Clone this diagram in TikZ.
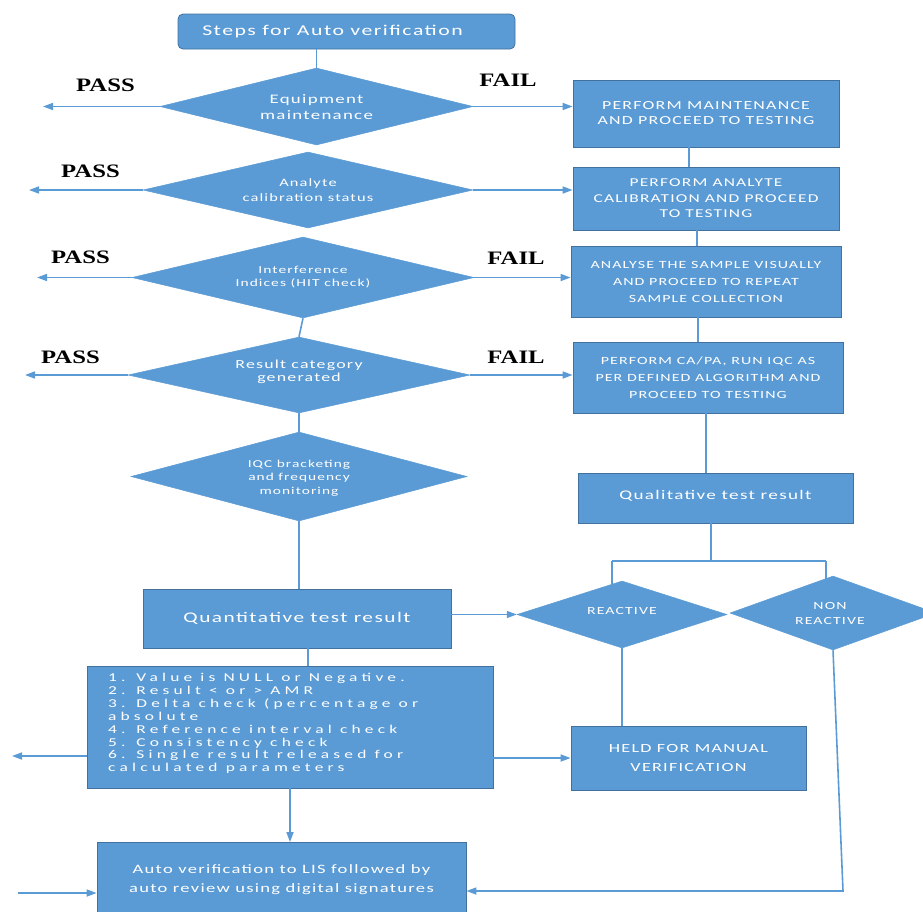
\documentclass[tikz,border=0pt]{standalone}
\usepackage{fontspec}
\setmainfont{Carlito}
\newfontfamily\wfont[FakeStretch=1.45,LetterSpace=10]{Carlito}
\newfontfamily\cfont[FakeStretch=1.45,LetterSpace=35]{Carlito}
\newfontfamily\lfont[FakeStretch=1.3]{Liberation Serif}
\usetikzlibrary{shapes.geometric,arrows.meta}
\definecolor{fillblue}{HTML}{5B9BD5}
\definecolor{edgeblue}{HTML}{41719C}
\definecolor{lineblue}{HTML}{5B9BD5}
\begin{document}
\begin{tikzpicture}[x=1pt,y=-1pt,
  box/.style={rectangle, fill=fillblue, draw=edgeblue, line width=0.8pt, inner sep=0pt, text=white, align=center},
  dia/.style={diamond, fill=fillblue, draw=fillblue, line width=0.5pt, inner sep=0pt},
  dtext/.style={text=white, align=center, inner sep=0pt},
  conn/.style={draw=lineblue, line width=1.6pt},
  arr/.style={conn, -{Triangle[length=10pt,width=7pt]}},
  lbl/.style={font={\lfont\bfseries\fontsize{19}{22}\selectfont}, inner sep=0pt}]
\useasboundingbox (0,0) rectangle (923,911);
\clip (0,0) rectangle (923,911);

% title
\node[box, rounded corners=5pt, minimum width=337pt, minimum height=35pt, font={\wfont\fontsize{15}{17}\selectfont}] (title) at (346.5,31.5) {\hspace{-28pt}Steps for Auto verification};

% diamonds
\node[dia, minimum width=313pt, minimum height=77pt] (d1) at (316.5,106.5) {};
\node[dtext, font={\wfont\fontsize{13}{16}\selectfont}] (t1) at (316.5,107) {Equipment\\maintenance};
\node[dia, minimum width=330pt, minimum height=76pt] (d2) at (308,190) {};
\node[dtext, font={\wfont\fontsize{11.3}{14.5}\selectfont}] (t2) at (308,190) {Analyte\\calibration status};
\node[dia, minimum width=342pt, minimum height=81pt] (d3) at (303,277.5) {};
\node[dtext, font={\wfont\fontsize{10.7}{13}\selectfont}] (t3) at (303,277.5) {Interference\\Indices (HIT check)};
\node[dia, minimum width=342pt, minimum height=76pt] (d4) at (299,375) {};
\node[dtext, font={\wfont\fontsize{12.3}{12.5}\selectfont}] (t4) at (299,372) {Result category\\generated};
\node[dia, minimum width=336pt, minimum height=89pt] (d5) at (299,476.5) {};
\node[dtext, font={\wfont\fontsize{10.6}{13.5}\selectfont}] (t5) at (299,478) {IQC bracketing\\and frequency\\monitoring};

% PASS / FAIL labels
\node[lbl] (p1) at (105.5,85) {PASS};
\node[lbl] (p2) at (90.5,171) {PASS};
\node[lbl] (p3) at (80.5,257) {PASS};
\node[lbl] (p4) at (70.5,357) {PASS};
\node[lbl] (f1) at (508,80) {FAIL};
\node[lbl] (f3) at (516,258) {FAIL};
\node[lbl] (f4) at (516,357) {FAIL};

% right column boxes
\node[box, minimum width=266pt, minimum height=67pt, font={\wfont\fontsize{12.3}{15}\selectfont}] (b1) at (706,113.5) {PERFORM MAINTENANCE\\AND PROCEED TO TESTING};
\node[box, minimum width=266pt, minimum height=63pt, font={\wfont\fontsize{12}{15.5}\selectfont}] (b2) at (706,198.5) {PERFORM ANALYTE\\CALIBRATION AND PROCEED\\TO TESTING};
\node[box, minimum width=270pt, minimum height=71pt, font={\wfont\fontsize{11}{17}\selectfont}] (b3) at (706,281.5) {ANALYSE THE SAMPLE VISUALLY\\AND PROCEED TO REPEAT\\SAMPLE COLLECTION};
\node[box, minimum width=270pt, minimum height=71pt, font={\wfont\fontsize{11}{17}\selectfont}] (b4) at (708,377.5) {PERFORM CA/PA, RUN IQC AS\\PER DEFINED ALGORITHM AND\\PROCEED TO TESTING};

\node[box, minimum width=275pt, minimum height=50pt, font={\wfont\fontsize{13.2}{16}\selectfont}] (qual) at (715.5,498) {\raisebox{7pt}{Qualitative test result}};
\node[box, minimum width=308pt, minimum height=59pt, font={\wfont\fontsize{14.7}{17}\selectfont}] (quant) at (297,618.5) {Quantitative test result};

\node[dia, minimum width=210pt, minimum height=67pt] (r) at (622,614.5) {};
\node[dtext, font={\wfont\fontsize{10.9}{15}\selectfont}] (rt) at (622,611) {REACTIVE};
\node[dia, minimum width=206pt, minimum height=74pt] (nr) at (833,613) {};
\node[dtext, font={\wfont\fontsize{10.9}{15}\selectfont}] (nrt) at (830,613.5) {NON\\REACTIVE};

% criteria box
\node[box, minimum width=406pt, minimum height=122pt] (crit) at (290,727) {};
\node[anchor=north west, align=left, text=white, inner sep=0pt, font={\cfont\fontsize{12}{12.9}\selectfont}] (ct) at (108,673) {1. Value is NULL or Negative.\\2. Result < or > AMR\\3. Delta check (percentage or\\absolute\\4. Reference interval check\\5. Consistency check\\6. Single result released for\\calculated parameters};

\node[box, minimum width=235pt, minimum height=64pt, font={\wfont\fontsize{12.5}{19}\selectfont}] (held) at (688.5,758) {HELD FOR MANUAL\\VERIFICATION};
\node[box, minimum width=369pt, minimum height=75pt, font={\wfont\fontsize{12.8}{19}\selectfont}] (auto) at (281.5,880) {Auto verification to LIS followed by\\auto review using digital signatures};

% coordinates
\coordinate (e1) at (43,106.5);
\coordinate (e2) at (29,190);
\coordinate (e3) at (37,277.5);
\coordinate (e4) at (25,375);
\coordinate (jc) at (711,561);
\coordinate (jl) at (612,561);
\coordinate (jr) at (826,561);
\coordinate (rl) at (612,585);
\coordinate (nrl) at (826,579);
\coordinate (cl) at (12,756);
\coordinate (nrc) at (843,891);
\coordinate (ai) at (18,893);

% connectors
\draw[conn] (title.south -| d1.north) -- (d1.north);
\draw[conn] (d3.south) -- (d4.north);
\draw[conn] (d4.south) -- (d5.north);
\draw[conn] (d5.south) -- (d5.south |- quant.north);

\draw[arr] (d1.west) -- (e1);
\draw[arr] (d2.west) -- (e2);
\draw[arr] (d3.west) -- (e3);
\draw[arr] (d4.west) -- (e4);

\draw[arr] (d1.east) -- (d1.east -| b1.west);
\draw[arr] (d2.east) -- (d2.east -| b2.west);
\draw[arr] (d3.east) -- (d3.east -| b3.west);
\draw[arr] (d4.east) -- (d4.east -| b4.west);

\draw[conn] ([xshift=-17pt]b1.south) -- ([xshift=-17pt]b1.south |- b2.north);
\draw[conn] ([xshift=-9pt]b2.south) -- ([xshift=-9pt]b2.south |- b3.north);
\draw[conn] ([xshift=-8pt]b3.south) -- ([xshift=-8pt]b3.south |- b4.north);
\draw[conn] ([xshift=-2pt]b4.south) -- ([xshift=-2pt]b4.south |- qual.north);

\draw[conn] (qual.south -| jc) -- (jc);
\draw[conn] (jl) -- (jr);
\draw[conn] (jl) -- (rl);
\draw[conn] (jr) -- (nrl);

\draw[arr] (quant.east |- r.west) -- (r.west);
\draw[conn] ([xshift=11pt]quant.south) -- ([xshift=11pt]quant.south |- crit.north);
\draw[arr] (crit.south) -- (crit.south |- auto.north);
\draw[arr] (crit.west |- cl) -- (cl);
\draw[arr] (crit.east |- held.west) -- (held.west);
\draw[conn] (r.south) -- (r.south |- held.north);
\draw[arr] (nr.south) -- (nrc) -- (auto.east |- nrc);
\draw[arr] (ai) -- (ai -| auto.west);
\end{tikzpicture}
\end{document}
